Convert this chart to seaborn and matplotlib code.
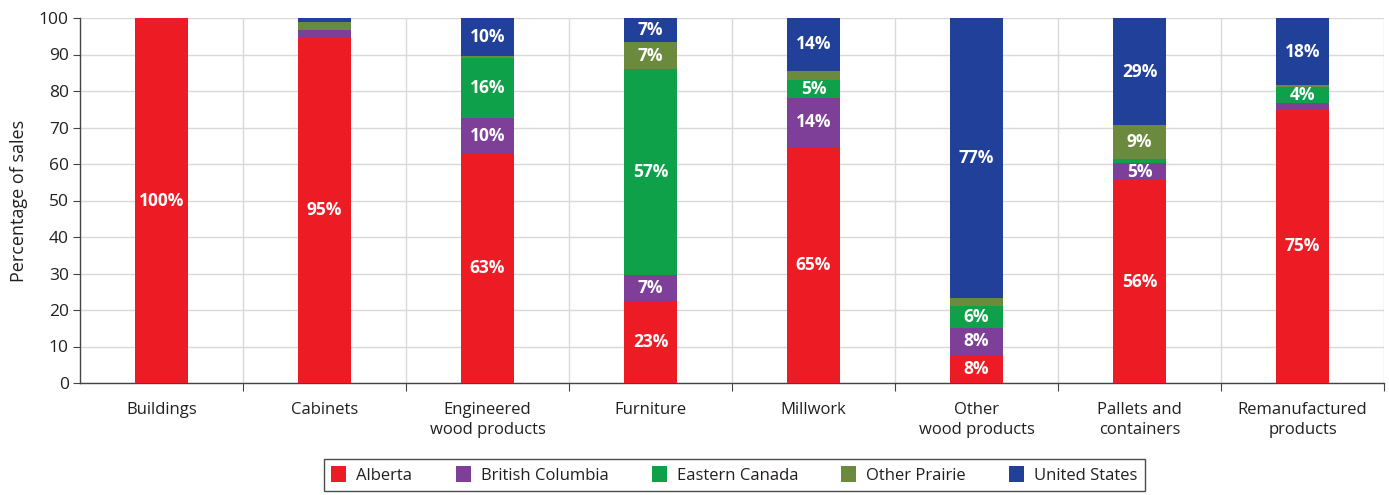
import numpy as np
import pandas as pd
import matplotlib
matplotlib.use("Agg")
import matplotlib.pyplot as plt
from matplotlib.patches import Patch
from matplotlib.ticker import FixedLocator
import seaborn as sns

categories = ["Buildings", "Cabinets", "Engineered\nwood products", "Furniture",
              "Millwork", "Other\nwood products", "Pallets and\ncontainers",
              "Remanufactured\nproducts"]
regions = ["Alberta", "British Columbia", "Eastern Canada", "Other Prairie", "United States"]

alberta = [100.0, 94.6, 62.8, 22.6, 64.6, 7.6, 55.6, 74.8]
british_columbia = [0.0, 2.0, 9.9, 6.9, 13.6, 7.6, 4.6, 2.0]
eastern_canada = [0.0, 0.0, 16.4, 56.6, 4.7, 5.8, 1.3, 4.2]
other_prairie = [0.0, 2.3, 0.6, 7.2, 2.7, 2.3, 9.1, 0.6]
united_states = [0.0, 1.1, 10.3, 6.7, 14.4, 76.7, 29.4, 18.4]

colors = ["#ED1C24", "#7D3F98", "#0FA14A", "#6B8A3E", "#21409A"]

sns.set_theme(style="white")
plt.rcParams["font.family"] = ["Open Sans", "DejaVu Sans"]

series = [alberta, british_columbia, eastern_canada, other_prairie, united_states]
vals = np.array(series)
cum = np.cumsum(vals, axis=0)

fig = plt.figure(figsize=(13.89, 4.95), dpi=100)
ax = fig.add_axes([80 / 1389, 1 - 383 / 495, 1304 / 1389, 365 / 495])

# stacked bars: draw cumulative totals from the top layer downward
for i in range(len(regions) - 1, -1, -1):
    df = pd.DataFrame({"category": categories, "value": cum[i]})
    sns.barplot(data=df, x="category", y="value", order=categories,
                color=colors[i], saturation=1, width=0.33, ax=ax,
                linewidth=0, errorbar=None, zorder=3)

# segment labels
for i in range(len(regions)):
    for j in range(len(categories)):
        v = vals[i, j]
        if v >= 3.5:
            mid = cum[i, j] - v / 2
            ax.text(j, mid, f"{v:.0f}%", ha="center", va="center",
                    color="white", fontsize=12.5, fontweight="bold", zorder=5)

ax.set_xlim(-0.5, len(categories) - 0.5)
ax.set_ylim(0, 100)
ax.set_yticks(np.arange(0, 101, 10))
ax.set_xticks(range(len(categories)))
ax.set_xticklabels(categories, fontsize=12, color="#231F20", linespacing=1.3)
ax.tick_params(axis="x", which="major", length=0, pad=14)
ax.xaxis.set_minor_locator(FixedLocator(np.arange(0.5, len(categories), 1.0)))
ax.tick_params(axis="x", which="minor", length=6, width=0.8, color="#444444", direction="out", bottom=True)
ax.tick_params(axis="y", length=5, width=0.8, color="#444444", direction="out", left=True,
               labelsize=12.5, labelcolor="#231F20", pad=3)
ax.set_xlabel("")
ax.set_ylabel("Percentage of sales", fontsize=13, color="#231F20", labelpad=8)

ax.grid(axis="y", which="major", color="#D9D9D9", linewidth=1, zorder=0)
ax.grid(axis="x", which="minor", color="#D9D9D9", linewidth=1, zorder=0)
ax.grid(axis="x", which="major", visible=False)
ax.set_axisbelow(True)

for side in ["top", "right"]:
    ax.spines[side].set_visible(False)
for side in ["left", "bottom"]:
    ax.spines[side].set_color("#444444")
    ax.spines[side].set_linewidth(1.0)

handles = [Patch(facecolor=c, edgecolor="none") for c in colors]
leg = fig.legend(handles, regions, loc="center", bbox_to_anchor=(734.5 / 1389, 1 - 475 / 495),
                 ncol=5, frameon=True, fontsize=12, handlelength=0.9, handleheight=1.1,
                 columnspacing=2.6, handletextpad=0.6, borderpad=0.45, fancybox=False)
leg.get_frame().set_edgecolor("#231F20")
leg.get_frame().set_linewidth(1.0)
for t in leg.get_texts():
    t.set_color("#231F20")

fig.savefig("out.png", dpi=100)
